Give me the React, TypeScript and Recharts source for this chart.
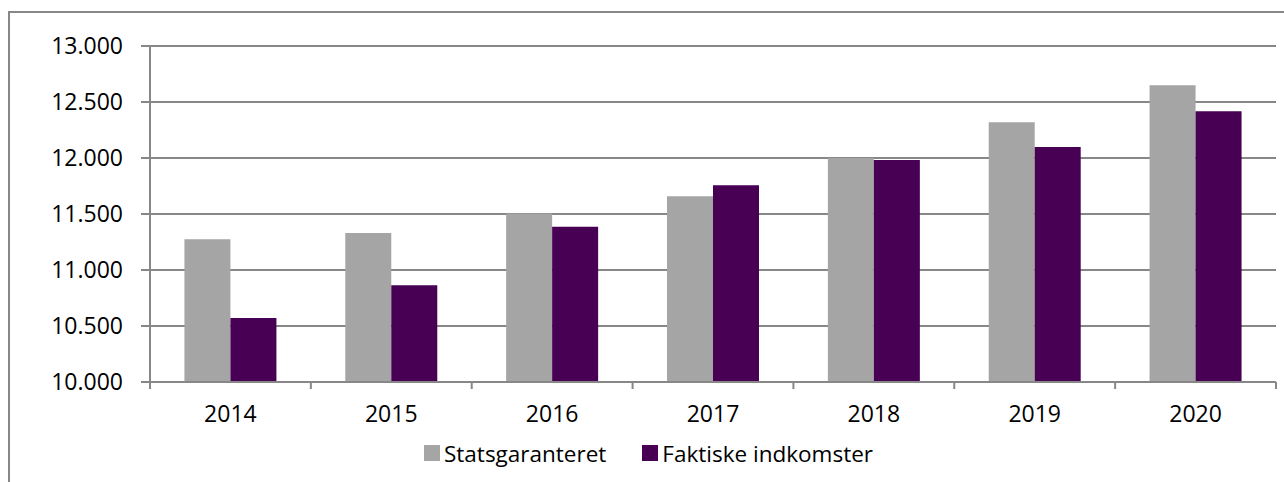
import { BarChart, Bar, XAxis, YAxis, CartesianGrid, Legend } from "recharts"

const years = ["2014", "2015", "2016", "2017", "2018", "2019", "2020"]
const statsgaranteret = [11274, 11330, 11505, 11658, 12000, 12319, 12649]
const faktiskeIndkomster = [10571, 10863, 11387, 11756, 11982, 12098, 12417]
const yTicks = [10000, 10500, 11000, 11500, 12000, 12500, 13000]

const GREY = "#a5a5a5"
const PURPLE = "#470053"
const LINE = "#878787"
const FONT = "'Open Sans', sans-serif"

const data = years.map((year, i) => ({
  year,
  statsgaranteret: statsgaranteret[i],
  faktiske: faktiskeIndkomster[i],
}))

const formatThousands = (v: number) => String(v).replace(/\B(?=(\d{3})+(?!\d))/g, ".")

// tick line sits on the band boundary, label in the middle of the band
function YearTick(props: any) {
  const { x, y, payload, index } = props
  const half = payload.offset || 0
  return (
    <g>
      <line x1={x - half} x2={x - half} y1={y} y2={y + 7} stroke={LINE} strokeWidth={2} />
      {index === years.length - 1 && (
        <line x1={x + half} x2={x + half} y1={y} y2={y + 7} stroke={LINE} strokeWidth={2} />
      )}
      <text x={x} y={y + 24} dy="0.71em" textAnchor="middle" fill="#000" fontSize={23} fontFamily={FONT}>
        {payload.value}
      </text>
    </g>
  )
}

const legendItems = [
  { label: "Statsgaranteret", color: GREY },
  { label: "Faktiske indkomster", color: PURPLE },
]

function LegendBox() {
  return (
    <div
      style={{
        display: "flex",
        justifyContent: "center",
        alignItems: "center",
        height: 30,
        paddingLeft: 21,
        fontFamily: FONT,
        fontSize: 22.5,
        color: "#000",
      }}
    >
      {legendItems.map((item, i) => (
        <div key={item.label} style={{ display: "flex", alignItems: "center", marginLeft: i ? 36 : 0 }}>
          <span style={{ width: 16, height: 16, background: item.color, marginRight: 4, display: "inline-block" }} />
          <span>{item.label}</span>
        </div>
      ))}
    </div>
  )
}

export default function App() {
  return (
    <div style={{ position: "absolute", left: 0, top: 0, width: 1284, height: 482, overflow: "hidden", background: "#fff" }}>
      <div
        style={{
          position: "absolute",
          left: 8,
          top: 11,
          width: 1320,
          height: 520,
          border: `2px solid ${LINE}`,
        }}
      />
      <div style={{ position: "absolute", left: 0, top: 0 }}>
        <BarChart
          width={1284}
          height={482}
          data={data}
          margin={{ top: 46, right: 8, left: 0, bottom: 0 }}
          barCategoryGap="21.4%"
          barGap={0}
        >
          <CartesianGrid vertical={false} stroke={LINE} strokeWidth={2} />
          <XAxis
            dataKey="year"
            height={56}
            tickSize={0}
            tickMargin={0}
            axisLine={{ stroke: LINE, strokeWidth: 2 }}
            tickLine={false}
            tick={<YearTick />}
            interval={0}
          />
          <YAxis
            width={150}
            domain={[10000, 13000]}
            ticks={yTicks}
            tickFormatter={formatThousands}
            tickSize={9}
            tickMargin={18}
            axisLine={{ stroke: LINE, strokeWidth: 2 }}
            tickLine={{ stroke: LINE, strokeWidth: 2 }}
            tick={{ fill: "#000", fontSize: 23, fontFamily: FONT }}
            allowDataOverflow
          />
          <Legend verticalAlign="bottom" wrapperStyle={{ height: 44 }} content={<LegendBox />} />
          <Bar dataKey="statsgaranteret" name="Statsgaranteret" fill={GREY} isAnimationActive={false} />
          <Bar dataKey="faktiske" name="Faktiske indkomster" fill={PURPLE} isAnimationActive={false} />
        </BarChart>
      </div>
    </div>
  )
}
